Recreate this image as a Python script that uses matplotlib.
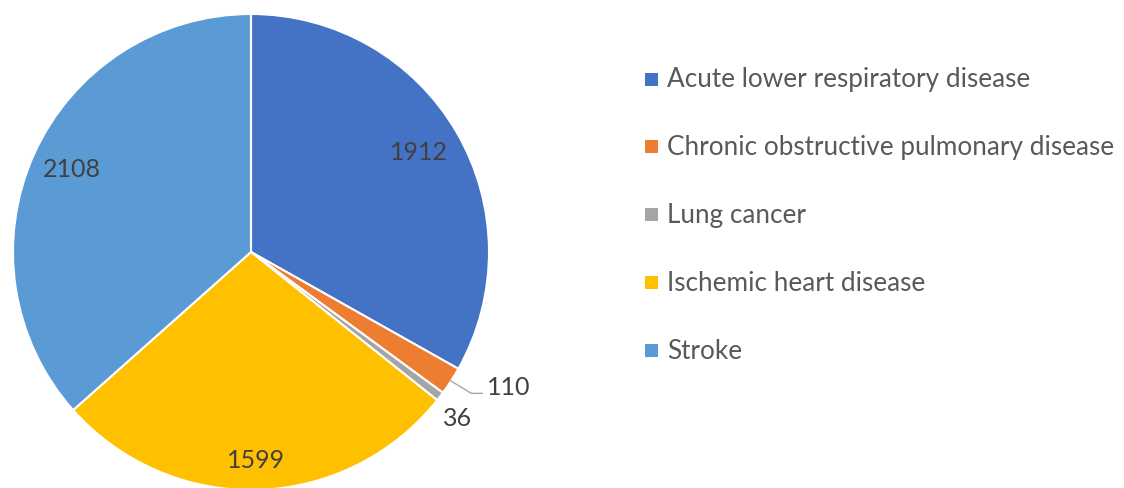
import math
import matplotlib
matplotlib.use("Agg")
import matplotlib.pyplot as plt
from matplotlib.patches import Rectangle

# data
causes = ["Acute lower respiratory disease",
          "Chronic obstructive pulmonary disease",
          "Lung cancer",
          "Ischemic heart disease",
          "Stroke"]
deaths = [1912, 110, 36, 1599, 2108]
colors = ["#4472C4", "#ED7D31", "#A5A5A5", "#FFC000", "#5B9BD5"]

# label placement (radius, angle shift in degrees) per slice
label_r = [0.82, 1.22, 1.11, 0.87, 0.83]
label_dt = [0.6, 5.3, -1.3, -0.2, -0.7]

plt.rcParams['font.family'] = ['Lato', 'DejaVu Sans']

W, H = 1124, 489
fig = plt.figure(figsize=(W / 100, H / 100), dpi=100)
cx, cy, R = 251, 253, 238
ax = fig.add_axes([(cx - R) / W, (H - cy - R) / H, 2 * R / W, 2 * R / H])

wedges, _ = ax.pie(deaths, colors=colors, startangle=90, counterclock=False,
                   wedgeprops=dict(edgecolor='white', linewidth=1.5))
for w in wedges:
    w.set_clip_on(False)
ax.set_xlim(-1, 1)
ax.set_ylim(-1, 1)
ax.axis('off')

for i, w in enumerate(wedges):
    mid = (w.theta1 + w.theta2) / 2
    a = math.radians(mid + label_dt[i])
    x, y = label_r[i] * math.cos(a), label_r[i] * math.sin(a)
    ax.text(x, y, str(deaths[i]), ha='center', va='center',
            fontsize=18, color='#404040', clip_on=False)
    if i == 1:
        # leader line for the small slice
        m = math.radians(mid)
        sx, sy = math.cos(m), math.sin(m)
        ex, ey = x - 0.11, y - 0.03
        ax.plot([sx, ex - 0.046, ex], [sy, ey, ey], color='#A6A6A6',
                lw=1, clip_on=False)

# legend
lx, ly0, step, sq = 651, 80, 67.9, 13
for i, name in enumerate(causes):
    yc = ly0 + i * step
    fig.add_artist(Rectangle(((lx - sq / 2) / W, (H - yc - sq / 2) / H),
                             sq / W, sq / H, transform=fig.transFigure,
                             facecolor=colors[i], edgecolor='none'))
    fig.text(667 / W, (H - yc) / H, name, ha='left', va='center',
             fontsize=18.8, color='#595959')

fig.savefig("out.png", dpi=100)
